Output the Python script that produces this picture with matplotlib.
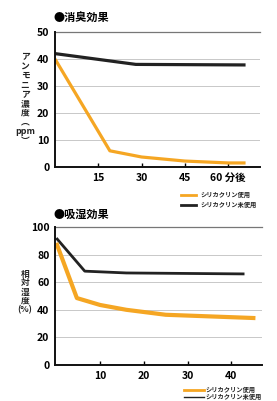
import matplotlib
matplotlib.use("Agg")
import matplotlib.pyplot as plt

plt.rcParams['font.family'] = ['Noto Sans CJK JP', 'DejaVu Sans']
plt.rcParams['font.weight'] = 'bold'

ORANGE = '#f5a623'
BLACK = '#222222'

# 消臭効果 (ammonia, ppm)
odor_x_used = [0, 19, 30, 45, 60, 66]
odor_y_used = [40, 6, 3.7, 2.2, 1.5, 1.5]
odor_x_unused = [0, 28, 66]
odor_y_unused = [42, 38, 37.8]
odor_xticks = [15, 30, 45, 60]
odor_xticklabels = ['15', '30', '45', '60 分後']
odor_yticks = [0, 10, 20, 30, 40, 50]

# 吸湿効果 (relative humidity, %)
hum_x_used = [0, 4.7, 10, 16, 25, 45.5]
hum_y_used = [88.5, 48.5, 43.5, 40, 36.4, 34]
hum_x_unused = [0, 6.5, 16, 43]
hum_y_unused = [92, 68, 66.7, 66]
hum_xticks = [10, 20, 30, 40]
hum_yticks = [0, 20, 40, 60, 80, 100]

legend_labels = ['シリカクリン使用', 'シリカクリン未使用']

fig = plt.figure(figsize=(2.77, 4.01), dpi=100)
W, H = 277, 401


def style_axes(ax, yticks, ymax):
    for s in ['top', 'right']:
        ax.spines[s].set_visible(False)
    for s in ['left', 'bottom']:
        ax.spines[s].set_color('#111111')
        ax.spines[s].set_linewidth(1.4)
    ax.set_yticks(yticks)
    ax.tick_params(axis='y', length=0, labelsize=7.5, pad=4)
    ax.tick_params(axis='x', direction='in', length=3, width=1, labelsize=7.5, pad=4)
    for y in yticks[1:-1]:
        ax.axhline(y, color='#c8c8c8', lw=0.7, zorder=0)
    ax.axhline(ymax, color='#777777', lw=0.9, zorder=0, clip_on=False)
    for lab in ax.get_xticklabels() + ax.get_yticklabels():
        lab.set_fontweight('bold')


# top chart
ax1 = fig.add_axes([55 / W, 1 - 167 / H, 205 / W, 135 / H])
ax1.plot(odor_x_unused, odor_y_unused, color=BLACK, lw=2.3, solid_capstyle='butt')
ax1.plot(odor_x_used, odor_y_used, color=ORANGE, lw=2.3, solid_capstyle='butt')
ax1.set_xlim(0, 71)
ax1.set_ylim(0, 50)
ax1.set_xticks(odor_xticks)
ax1.set_xticklabels(odor_xticklabels)
style_axes(ax1, odor_yticks, 50)

fig.text(54 / W, 1 - 17 / H, '●消臭効果', fontsize=8, fontweight='bold', va='center', ha='left')
fig.text(25 / W, 1 - 99 / H, 'ア\nン\nモ\nニ\nア\n濃\n度\n︵\nppm\n︶', fontsize=6.3,
         ha='center', va='center', linespacing=1.05, color='#222222')

# top legend
for i, (lab, col) in enumerate(zip(legend_labels, [ORANGE, BLACK])):
    y = 1 - (195 + 9.5 * i) / H
    fig.add_artist(plt.Line2D([181 / W, 196 / W], [y, y], color=col, lw=2.0, transform=fig.transFigure))
    fig.text(200 / W, y, lab, fontsize=4.5, va='center', ha='left', color='#222222')

# bottom chart
ax2 = fig.add_axes([55 / W, 1 - 365 / H, 207 / W, 138 / H])
ax2.plot(hum_x_unused, hum_y_unused, color=BLACK, lw=2.0, solid_capstyle='butt')
ax2.plot(hum_x_used, hum_y_used, color=ORANGE, lw=3.0, solid_capstyle='butt')
ax2.set_xlim(-0.3, 47)
ax2.set_ylim(0, 100)
ax2.set_xticks(hum_xticks)
style_axes(ax2, hum_yticks, 100)

fig.text(54 / W, 1 - 214 / H, '●吸湿効果', fontsize=8, fontweight='bold', va='center', ha='left')
fig.text(25 / W, 1 - 292 / H, '相\n対\n湿\n度\n(%)', fontsize=6.3,
         ha='center', va='center', linespacing=1.0, color='#222222')

# bottom legend
for i, (lab, col) in enumerate(zip(legend_labels, [ORANGE, BLACK])):
    y = 1 - (389.5 + 7.5 * i) / H
    fig.add_artist(plt.Line2D([184 / W, 204 / W], [y, y], color=col, lw=2.0 if i == 0 else 1.0,
                              transform=fig.transFigure))
    fig.text(205 / W, y, lab, fontsize=4.5, va='center', ha='left', color='#222222')

fig.savefig('out.png', dpi=100)
